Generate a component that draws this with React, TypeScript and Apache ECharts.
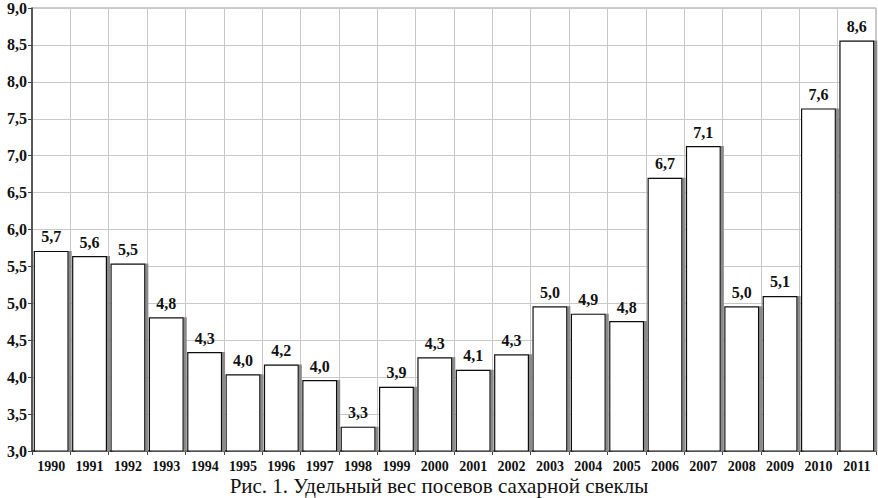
import React, { useEffect, useRef } from "react";
import * as echarts from "echarts";

const years = ["1990","1991","1992","1993","1994","1995","1996","1997","1998","1999","2000","2001","2002","2003","2004","2005","2006","2007","2008","2009","2010","2011"];
const shares = [5.71, 5.64, 5.54, 4.81, 4.34, 4.04, 4.17, 3.96, 3.33, 3.87, 4.27, 4.1, 4.31, 4.96, 4.86, 4.76, 6.7, 7.13, 4.96, 5.1, 7.64, 8.56];
const caption = "Рис. 1. Удельный вес посевов сахарной свеклы";

const fmt = (v: number) => v.toFixed(1).replace(".", ",");

export default function App() {
  const ref = useRef<HTMLDivElement>(null);
  useEffect(() => {
    const chart = echarts.init(ref.current!, null, { renderer: "svg" });
    const serif = "Liberation Serif";
    chart.setOption({
      animation: false,
      backgroundColor: "#fff",
      grid: { left: 32, right: 2, top: 5, bottom: 47, show: true, borderColor: "#999", borderWidth: 1 },
      title: {
        text: caption,
        left: "center",
        top: 476,
        padding: 0,
        textStyle: { fontFamily: serif, fontSize: 21, lineHeight: 20, fontWeight: "normal", color: "#111" },
      },
      xAxis: {
        type: "category",
        data: years,
        boundaryGap: true,
        axisLine: { lineStyle: { color: "#222", width: 1.5 } },
        axisTick: { show: true, length: 4, lineStyle: { color: "#444" } },
        axisLabel: { fontFamily: serif, fontSize: 14, lineHeight: 13, fontWeight: "bold", color: "#111", margin: 9, interval: 0 },
        splitLine: { show: true, interval: 0, lineStyle: { color: "#c8c8c8", width: 1 } },
      },
      yAxis: {
        type: "value",
        min: 3,
        max: 9,
        interval: 0.5,
        axisLine: { show: true, lineStyle: { color: "#333", width: 1.5 } },
        axisTick: { show: true, length: 4, lineStyle: { color: "#444" } },
        axisLabel: { fontFamily: serif, fontSize: 16, fontWeight: "bold", color: "#111", margin: 5, formatter: (v: number) => fmt(v) },
        splitLine: { show: true, lineStyle: { color: "#c8c8c8", width: 1 } },
      },
      series: [
        {
          type: "bar",
          data: shares,
          barCategoryGap: "9%",
          itemStyle: {
            color: "#fff",
            borderColor: "#111",
            borderWidth: 1.2,
            shadowColor: "#8a8a8a",
            shadowOffsetX: 3,
            shadowOffsetY: 0,
            shadowBlur: 0,
          },
          label: {
            show: true,
            position: "top",
            distance: 6,
            fontFamily: serif,
            fontSize: 16,
            fontWeight: "bold",
            color: "#111",
            formatter: (p: any) => fmt(p.value),
          },
        },
      ],
    });
    return () => chart.dispose();
  }, []);
  return <div ref={ref} style={{ position: "absolute", left: 0, top: 0, width: 878, height: 498 }} />;
}
